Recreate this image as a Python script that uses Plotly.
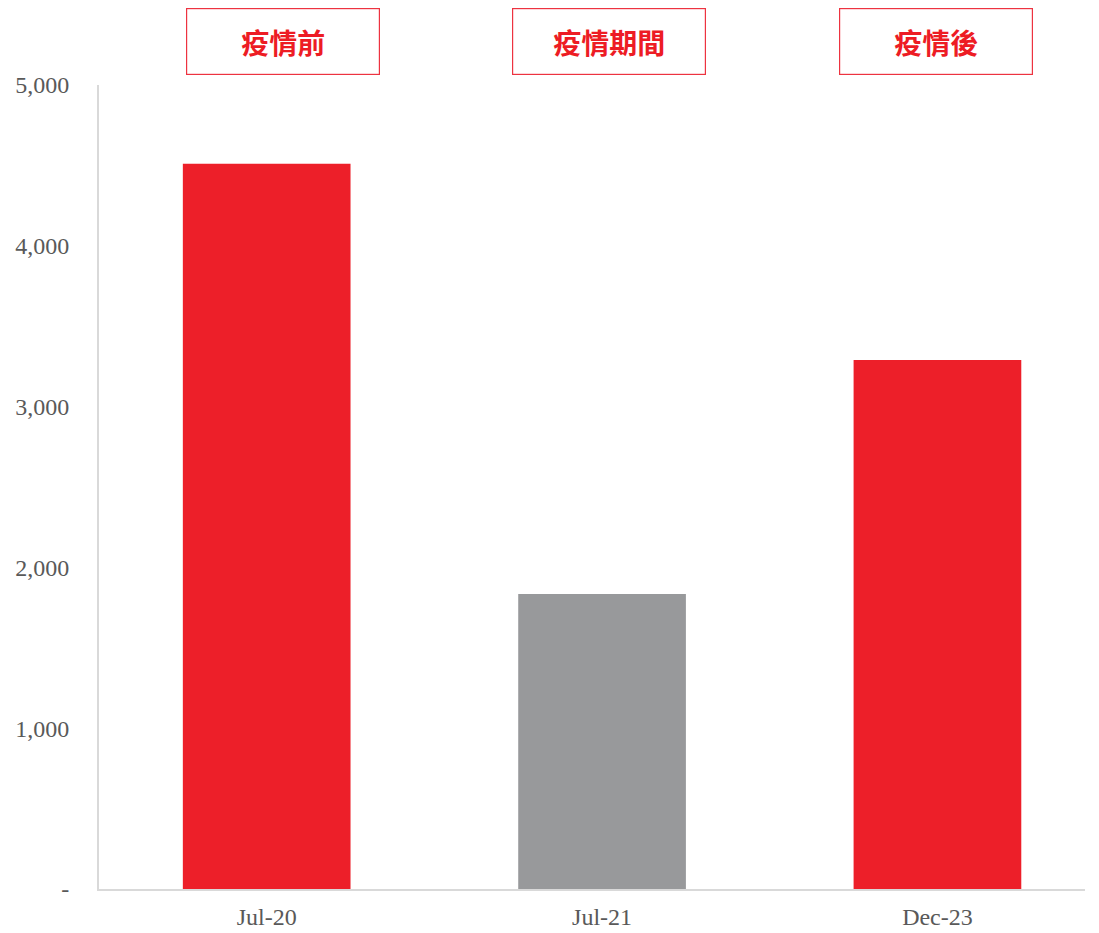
import plotly.graph_objects as go

categories = ["Jul-20", "Jul-21", "Dec-23"]
values = [4510, 1835, 3290]
bar_colors = ["#ED1F29", "#98999B", "#ED1F29"]
ytick_vals = [0, 1000, 2000, 3000, 4000, 5000]
ytick_text = ["-", "1,000", "2,000", "3,000", "4,000", "5,000"]
box_labels = ["疫情前", "疫情期間", "疫情後"]
box_x = [0.1864, 0.5172, 0.8485]

fig = go.Figure()
fig.add_trace(go.Bar(x=categories, y=values, marker=dict(color=bar_colors, line=dict(width=0)), width=0.5))

for lab, bx in zip(box_labels, box_x):
    fig.add_annotation(
        text=lab, xref="paper", yref="paper", x=bx, y=1.0541,
        xanchor="center", yanchor="middle", showarrow=False,
        width=192, height=65, borderpad=0, borderwidth=1.2,
        bordercolor="#ED3340", bgcolor="white",
        font=dict(family="Noto Sans CJK TC", size=28, color="#ED1C24", weight="bold"),
    )

fig.update_layout(
    width=1099, height=933,
    margin=dict(l=99, r=14, t=85, b=44),
    plot_bgcolor="white", paper_bgcolor="white",
    showlegend=False,
    bargap=0.5,
    font=dict(family="Liberation Serif", color="#595959", size=24),
)
fig.update_xaxes(
    type="category", range=[-0.5, 2.44], showline=True, linecolor="#D9D9D9", linewidth=2,
    showgrid=False, ticks="", ticklabelstandoff=5, automargin=False,
    tickfont=dict(family="Liberation Serif", size=24, color="#595959"),
)
fig.update_yaxes(
    range=[0, 5000], showline=True, linecolor="#D9D9D9", linewidth=2,
    showgrid=False, zeroline=False, ticks="", tickvals=ytick_vals, ticktext=ytick_text,
    ticklabelstandoff=23, automargin=False,
    tickfont=dict(family="Liberation Serif", size=24, color="#595959"),
)

fig.write_html("out.html")
